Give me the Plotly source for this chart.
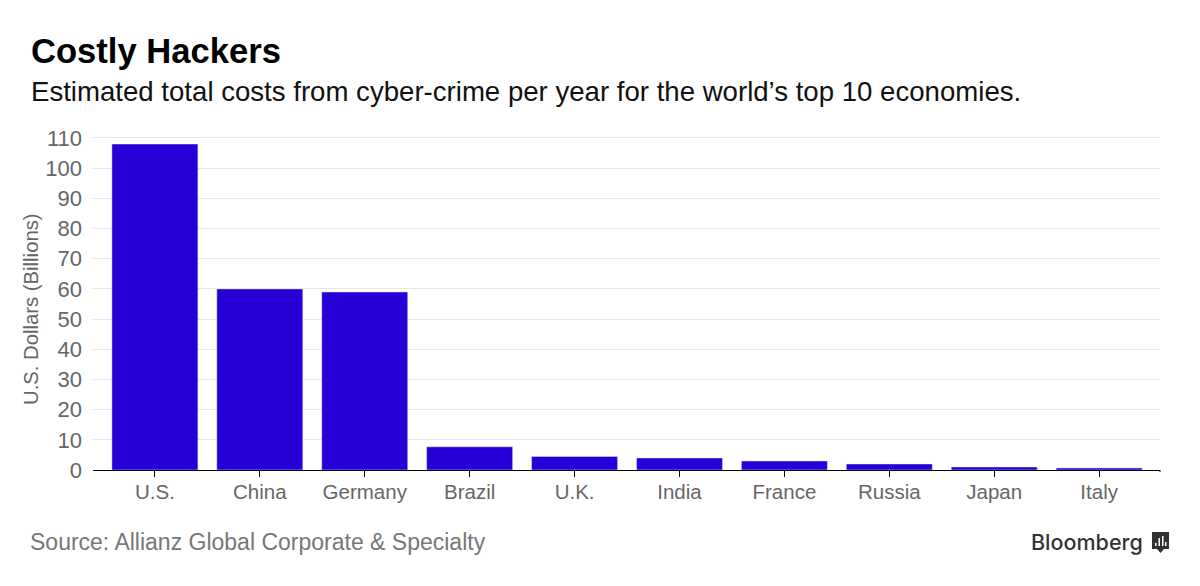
import plotly.graph_objects as go

countries = ["U.S.", "China", "Germany", "Brazil", "U.K.", "India", "France", "Russia", "Japan", "Italy"]
costs = [108, 60, 59, 7.7, 4.5, 4, 3, 2, 1, 0.7]
y_ticks = [0, 10, 20, 30, 40, 50, 60, 70, 80, 90, 100, 110]

W, H = 1200, 586
L, R, T, B = 93, 1160, 136, 470
FONT = "Liberation Sans"


# paper coords are relative to the plot area, so convert from page pixels
def px_x(v):
    return (v - L) / (R - L)


def px_y(v):
    return (B - v) / (B - T)


def label(text, x, y, size, color, xanchor="left", weight=None, font=FONT, angle=0):
    fig.add_annotation(
        text=text, x=px_x(x), y=px_y(y), xref="paper", yref="paper",
        xanchor=xanchor, yanchor="middle", showarrow=False, textangle=angle,
        borderpad=0, borderwidth=0,
        font=dict(size=size, color=color, family=font, weight=weight),
    )


fig = go.Figure(go.Bar(x=countries, y=costs, marker_color="#2700d8", width=0.82))

fig.update_layout(
    width=W, height=H, autosize=False,
    margin=dict(l=L, r=W - R, t=T, b=H - B),
    plot_bgcolor="white", paper_bgcolor="white",
    showlegend=False,
    font=dict(family=FONT, color="#666666"),
)
fig.update_xaxes(
    range=[-0.59, 9.58], tickmode="array", tickvals=countries,
    ticks="outside", ticklen=6, tickcolor="black", tickwidth=1,
    showline=True, linecolor="black", linewidth=1,
    showgrid=False, ticklabelstandoff=-3, tickfont=dict(size=20.5, color="#666666"),
)
# range runs past 110 so the top gridline still gets drawn
fig.update_yaxes(
    range=[0, 110.66], tickmode="array", tickvals=y_ticks,
    showgrid=True, gridcolor="#e6e6e6", gridwidth=1, zeroline=False,
    ticks="", ticklabelstandoff=10, tickfont=dict(size=22, color="#666666"),
)

label("Costly Hackers", 31, 51, 34.6, "#000000", weight="bold")
label("Estimated total costs from cyber-crime per year for the world’s top 10 economies.", 31, 91, 27.6, "#111111")
label("U.S. Dollars (Billions)", 31, 309, 20.3, "#666666", xanchor="center", angle=-90)
label("Source: Allianz Global Corporate &amp; Specialty", 30, 542, 23, "#777777")
label("Bloomberg", 1143, 542, 21.5, "#333333", xanchor="right", weight=500, font="Inter")

# small closing tick at the right end of the axis
fig.add_shape(type="line", xref="paper", yref="paper", x0=1, x1=1, y0=0, y1=px_y(472),
              line=dict(color="black", width=1))

# Bloomberg badge
fig.add_shape(type="rect", xref="paper", yref="paper", x0=px_x(1152), x1=px_x(1169),
              y0=px_y(549), y1=px_y(532), fillcolor="#333333", line_width=0)
fig.add_shape(type="path", xref="paper", yref="paper",
              path=f"M {px_x(1157)} {px_y(549)} L {px_x(1164)} {px_y(549)} L {px_x(1160.5)} {px_y(553)} Z",
              fillcolor="#333333", line_width=0)
for bx, top in [(1155, 543), (1158.5, 538), (1162, 536), (1165, 542)]:
    fig.add_shape(type="rect", xref="paper", yref="paper", x0=px_x(bx), x1=px_x(bx + 1.5),
                  y0=px_y(546), y1=px_y(top), fillcolor="white", line_width=0)

fig.write_html("out.html", config={"displayModeBar": False},
               post_script="document.body.style.margin='0';")
